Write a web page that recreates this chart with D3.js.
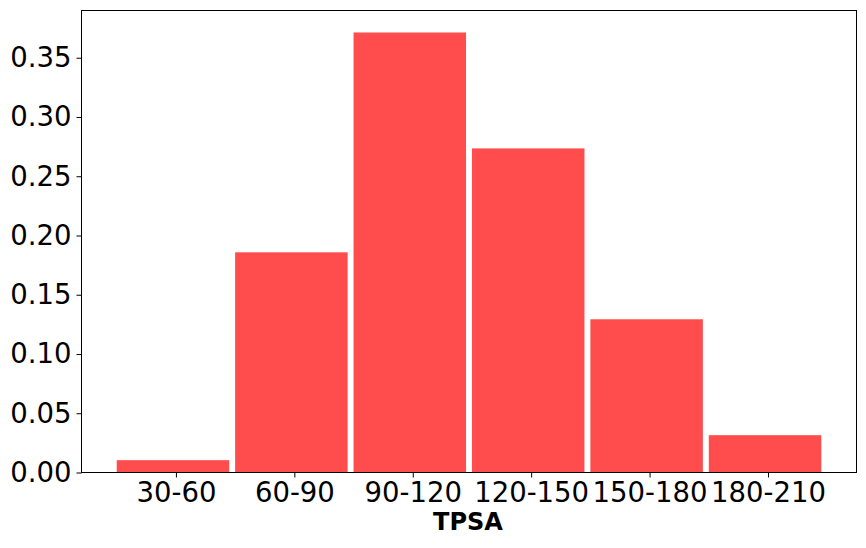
<!DOCTYPE html>
<html><head><meta charset="utf-8">
<script src="https://cdn.jsdelivr.net/npm/d3@7"></script>
<style>body{margin:0;background:#fff}svg{display:block}</style>
</head><body>
<svg id="c" width="866" height="548"></svg>
<script>
const categories = ["30-60","60-90","90-120","120-150","150-180","180-210"];
const values = [0.0104, 0.1858, 0.3713, 0.2735, 0.1293, 0.0315];
const yTicks = [0, 0.05, 0.10, 0.15, 0.20, 0.25, 0.30, 0.35];
const xLabel = "TPSA";

const svg = d3.select("#c");
const L = 81.5, R = 856.5, T = 10.5, B = 472.5;
const x = d3.scaleLinear().domain([-0.7975, 5.7475]).range([L, R]);
const yMax = d3.max(values) * 1.05;
const y = d3.scaleLinear().domain([0, yMax]).range([B, T]);

svg.append("g").selectAll("rect").data(values).join("rect")
  .attr("x", (d,i) => x(i - 0.5))
  .attr("width", (d,i) => x(i + 0.45) - x(i - 0.5))
  .attr("y", d => y(d))
  .attr("height", d => y(0) - y(d))
  .attr("fill", "#ff4d4d");

const font = "DejaVu Sans, sans-serif";
const xAxis = d3.axisBottom(x).tickValues(d3.range(categories.length))
  .tickFormat(i => categories[i]).tickSize(5).tickPadding(5);
const gx = svg.append("g").attr("transform", `translate(0,${B})`).call(xAxis);
gx.select(".domain").remove();
gx.selectAll("text").attr("font-family", font).attr("font-size", "27.5px").attr("fill", "#000");
gx.selectAll("line").attr("stroke", "#000");

const yAxis = d3.axisLeft(y).tickValues(yTicks).tickFormat(d3.format(".2f")).tickSize(5).tickPadding(5);
const gy = svg.append("g").attr("transform", `translate(${L},0)`).call(yAxis);
gy.select(".domain").remove();
gy.selectAll("text").attr("font-family", font).attr("font-size", "27.5px").attr("fill", "#000");
gy.selectAll("line").attr("stroke", "#000");

svg.append("rect").attr("x", L).attr("y", T).attr("width", R - L).attr("height", B - T)
  .attr("fill", "none").attr("stroke", "#000").attr("stroke-width", 1);

svg.append("text").attr("x", (L + R) / 2 - 1).attr("y", 530).attr("text-anchor", "middle")
  .attr("font-family", font).attr("font-weight", "bold").attr("font-size", "24px").text(xLabel);
</script>
</body></html>
